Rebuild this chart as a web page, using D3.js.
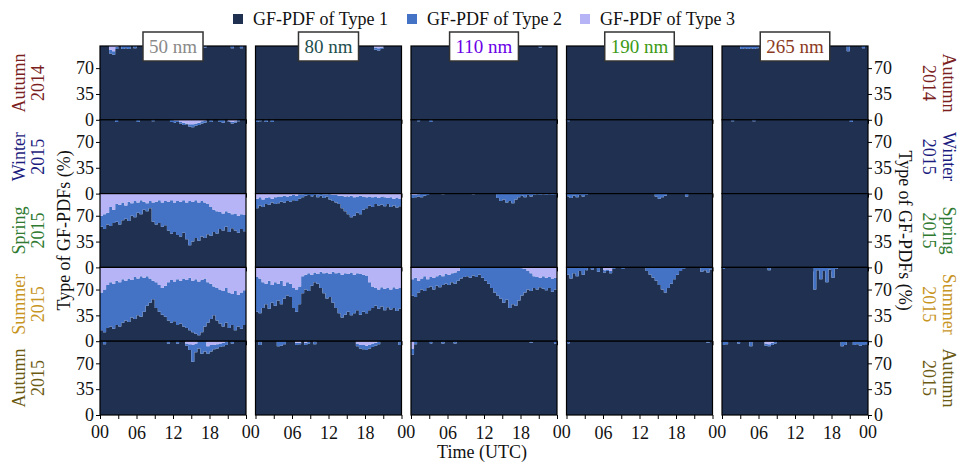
<!DOCTYPE html>
<html>
<head>
<meta charset="utf-8">
<script src="https://cdn.jsdelivr.net/npm/d3@7"></script>
<style>
body { margin: 0; background: #fff; }
svg { display: block; font-family: "Liberation Serif", "DejaVu Serif", serif; }
</style>
</head>
<body>
<div id="chart"></div>
<script>
// categories
const sizes = ["50 nm", "80 nm", "110 nm", "190 nm", "265 nm"];
const seasons = [["Autumn", "2014"], ["Winter", "2015"], ["Spring", "2015"], ["Summer", "2015"], ["Autumn", "2015"]];
const typeNames = ["GF-PDF of Type 1", "GF-PDF of Type 2", "GF-PDF of Type 3"];
const hours = d3.range(0, 24, 0.5); // half-hour bins, UTC
const xTicks = [0, 3, 6, 9, 12, 15, 18, 21, 24];
const xTickLabels = { 6: "06", 12: "12", 18: "18" };
const yTicks = [0, 35, 70];

// share (%) of Type 2 and Type 3 per half-hour bin; one list per size (50, 80, 110, 190, 265 nm).
// Type 1 is the rest of the 100 %.
const autumn2014Type2 = [
  [0,0,0,5,5,3,0,4,3,4,0,3, 0,0,0,0,0,0,0,0,0,0,0,0, 0,0,0,0,0,0,0,0,0,0,2,0, 0,0,0,0,0,0,0,3,0,0,3,0],
  [0,0,0,0,0,0,0,0,0,0,0,0, 0,0,3,2,0,0,0,0,0,0,0,0, 0,0,0,0,0,0,0,0,0,0,0,0, 0,0,0,3,3,2,0,0,0,0,0,0],
  [0,0,0,0,0,0,0,0,0,0,0,0, 0,0,0,0,0,0,0,0,0,0,0,0, 0,0,0,0,0,0,0,0,0,0,0,0, 0,0,0,0,0,0,2,0,0,0,0,0],
  [0,0,0,0,0,0,0,0,0,0,0,0, 0,0,0,0,0,0,0,0,0,0,0,0, 0,0,0,0,0,0,0,0,0,0,0,0, 0,0,0,0,0,0,0,0,0,0,0,0],
  [0,0,0,0,0,0,4,3,4,3,4,3, 0,7,0,0,0,0,0,0,0,0,0,0, 0,0,0,0,0,0,0,0,0,0,0,0, 0,0,0,0,0,7,0,0,0,0,3,0]
];
const autumn2014Type3 = [
  [0,0,0,5,7,1,0,0,0,0,0,0, 0,0,0,0,0,0,0,0,0,0,0,0, 0,0,0,0,0,0,0,0,0,0,0,0, 0,0,0,0,0,0,0,0,0,0,0,0],
  [0,0,0,0,0,0,0,0,0,0,0,0, 0,0,3,3,0,0,0,0,0,0,0,0, 0,0,0,0,0,0,0,0,0,0,0,0, 0,0,0,2,3,2,0,0,0,0,0,0],
  [0,0,0,0,0,0,0,0,0,0,0,0, 0,0,0,0,0,0,0,0,0,0,0,0, 0,0,0,0,0,0,0,0,0,0,0,0, 0,0,0,0,0,0,0,0,0,0,0,0],
  [0,0,0,0,0,0,0,0,0,0,0,0, 0,0,0,0,0,0,0,0,0,0,0,0, 0,0,0,0,0,0,0,0,0,0,0,0, 0,0,0,0,0,0,0,0,0,0,0,0],
  [0,0,0,0,0,0,0,0,0,0,0,0, 0,0,0,0,0,0,0,0,0,0,0,0, 0,0,0,0,0,0,0,0,0,0,0,0, 0,0,0,0,0,0,0,0,0,0,0,0]
];

const winter2015Type2 = [
  [0,0,0,0,0,3,0,0,0,0,0,0, 3,0,0,0,0,2,0,0,0,0,0,3, 3,2,2,3,1,3,4,3,3,3,3,0, 3,0,0,3,4,0,1,2,2,2,0,0],
  [3,2,0,3,0,3,0,0,0,0,0,0, 0,0,0,0,0,0,0,0,0,0,0,0, 0,0,0,0,0,0,0,0,0,0,0,0, 0,0,0,0,0,0,0,0,0,0,0,0],
  [0,0,2,0,0,0,3,0,0,0,0,0, 0,0,0,0,0,0,0,0,0,0,0,0, 0,0,0,0,0,0,0,0,0,0,0,0, 0,0,0,0,0,0,0,0,0,0,0,0],
  [2,0,0,0,0,0,0,0,0,0,0,0, 0,0,0,0,0,0,0,0,0,0,0,0, 0,0,0,0,0,0,0,0,0,0,0,0, 0,0,0,0,0,0,0,0,0,0,0,0],
  [0,0,0,2,0,0,0,0,0,0,2,0, 0,0,0,0,0,0,0,0,0,0,0,0, 0,0,0,0,0,0,0,0,0,0,0,0, 0,0,0,0,0,0,3,0,0,0,0,0]
];
const winter2015Type3 = [
  [0,0,0,0,0,0,0,0,0,0,0,0, 0,0,0,0,0,0,0,0,0,0,0,0, 1,1,3,4,5,6,6,5,4,2,1,0, 0,0,0,0,0,0,2,3,2,0,0,0],
  [0,0,0,0,0,0,0,0,0,0,0,0, 0,0,0,0,0,0,0,0,0,0,0,0, 0,0,0,0,0,0,0,0,0,0,0,0, 0,0,0,0,0,0,0,0,0,0,0,0],
  [0,0,0,0,0,0,0,0,0,0,0,0, 0,0,0,0,0,0,0,0,0,0,0,0, 0,0,0,0,0,0,0,0,0,0,0,0, 0,0,0,0,0,0,0,0,0,0,0,0],
  [0,0,0,0,0,0,0,0,0,0,0,0, 0,0,0,0,0,0,0,0,0,0,0,0, 0,0,0,0,0,0,0,0,0,0,0,0, 0,0,0,0,0,0,0,0,0,0,0,0],
  [0,0,0,0,0,0,0,0,0,0,0,0, 0,0,0,0,0,0,0,0,0,0,0,0, 0,0,0,0,0,0,0,0,0,0,0,0, 0,0,0,0,0,0,0,0,0,0,0,0]
];

const spring2015Type2 = [
  [15,20,16,26,18,24,27,24,18,26,17,22, 14,19,11,11,10,26,31,31,33,33,39,45, 40,46,47,44,50,60,54,51,52,48,48,41, 39,30,30,23,23,21,26,19,23,23,20,22],
  [13,11,10,8,10,5,9,9,7,9,6,8, 7,7,6,4,3,2,4,2,4,3,5,3, 7,8,10,11,17,20,24,29,25,22,25,18, 15,12,13,10,10,11,12,8,13,9,13,10],
  [4,3,3,5,3,2,0,0,0,0,1,0, 0,0,0,0,0,0,0,0,1,0,0,0, 0,0,0,0,6,10,8,12,10,13,8,5, 3,5,2,4,2,1,2,1,2,1,2,1],
  [4,6,3,5,2,4,2,0,0,0,0,0, 0,0,0,0,0,0,0,0,0,0,0,0, 0,0,0,0,0,4,7,5,3,0,0,0, 0,0,0,4,0,0,0,0,0,0,0,0],
  [0,0,0,0,0,0,0,0,0,0,0,0, 0,0,0,0,0,0,0,0,0,0,0,0, 0,0,0,0,0,0,0,0,0,0,0,0, 0,0,0,0,0,0,0,0,0,0,0,0]
];
const spring2015Type3 = [
  [30,28,26,18,22,14,15,12,16,11,13,10, 12,9,11,13,10,12,11,9,12,10,11,9, 12,10,11,9,12,10,11,9,12,10,12,14, 18,22,24,25,27,24,26,28,27,30,28,29],
  [7,5,8,6,5,7,5,4,4,3,4,3, 2,3,1,1,0,0,0,0,1,0,1,1, 1,2,2,3,3,4,4,3,5,4,3,4, 5,4,5,4,6,4,5,6,5,7,6,7],
  [2,2,1,0,0,0,0,0,0,0,0,0, 0,0,0,0,0,0,0,0,0,0,0,0, 0,0,0,0,0,0,0,0,0,0,0,0, 0,0,0,0,0,0,0,0,0,0,0,0],
  [0,0,0,0,0,0,0,0,0,0,0,0, 0,0,0,0,0,0,0,0,0,0,0,0, 0,0,0,0,0,0,0,0,0,0,0,0, 0,0,0,0,0,0,0,0,0,0,0,0],
  [0,0,0,0,0,0,0,0,0,0,0,0, 0,0,0,0,0,0,0,0,0,0,0,0, 0,0,0,0,0,0,0,0,0,0,0,0, 0,0,0,0,0,0,0,0,0,0,0,0]
];

const summer2015Type2 = [
  [51,58,58,60,61,60,60,59,54,59,51,57, 50,55,46,40,33,25,35,36,36,42,52,58, 54,62,58,65,65,71,70,74,73,71,65,55, 48,39,44,46,48,47,48,42,53,43,49,47],
  [47,47,35,28,38,24,32,23,32,17,18,18, 27,30,24,23,20,24,15,13,13,22,27,35, 31,42,47,55,58,56,51,58,52,50,55,50, 51,38,29,24,26,26,29,26,27,28,30,28],
  [22,26,16,15,20,12,13,16,13,17,12,13, 14,12,15,13,15,13,12,14,11,13,10,14, 18,22,28,34,38,42,48,44,55,50,52,45, 37,32,25,24,16,17,13,17,17,15,18,16],
  [10,15,8,12,5,10,4,0,3,0,6,0, 3,2,3,2,0,0,2,0,0,0,0,0, 0,0,5,10,14,18,24,30,34,28,22,16, 10,5,2,0,0,0,0,0,6,4,7,3],
  [2,0,0,0,0,0,0,0,0,0,0,0, 0,0,0,4,0,0,0,0,0,0,0,0, 0,0,0,0,0,0,30,4,16,5,20,3, 14,2,0,0,0,0,0,0,0,0,0,0]
];
const summer2015Type3 = [
  [34,30,24,20,22,18,20,16,18,15,17,13, 15,12,14,12,15,18,20,24,28,25,20,17, 19,16,18,15,17,14,18,16,19,17,15,20, 22,26,28,30,32,28,34,36,32,37,34,31],
  [13,15,20,22,18,24,20,22,18,25,20,22, 28,30,26,12,10,8,10,7,9,6,8,7, 9,6,8,7,10,8,9,7,10,8,9,10, 11,20,26,28,30,27,29,28,30,27,29,28],
  [16,14,18,15,12,16,13,14,12,10,12,9, 10,8,7,5,0,0,0,0,0,0,0,0, 0,0,0,0,0,0,0,0,0,0,0,0, 1,2,5,8,12,13,14,12,14,13,15,14],
  [0,0,0,0,0,0,0,0,0,0,0,0, 4,3,5,0,0,0,0,0,0,0,0,0, 0,0,0,0,0,0,0,0,0,0,0,0, 0,0,0,0,0,0,0,0,0,0,0,0],
  [0,0,0,0,0,0,0,0,0,0,0,0, 0,0,0,0,0,0,0,0,0,0,0,0, 0,0,0,0,0,0,0,0,0,0,0,0, 0,0,0,0,0,0,0,0,0,0,0,0]
];

const autumn2015Type2 = [
  [0,4,0,0,0,0,0,0,0,0,0,0, 0,0,0,0,0,0,0,0,0,0,3,0, 0,3,0,0,3,8,23,12,10,17,14,10, 9,6,6,5,5,4,0,3,0,0,0,0],
  [0,5,0,0,0,0,0,7,6,4,0,0, 0,3,2,0,3,3,0,3,0,0,0,0, 0,0,0,0,0,0,0,0,0,4,5,6, 6,5,5,4,4,0,0,0,0,0,0,5],
  [8,4,0,0,0,0,3,0,0,0,3,0, 0,0,3,0,0,0,0,0,0,0,0,0, 0,0,0,0,0,0,0,0,0,0,0,0, 0,0,0,2,0,0,0,0,0,0,0,3],
  [3,0,0,0,0,0,0,0,0,0,0,0, 0,0,0,0,0,0,0,0,0,0,0,0, 0,0,0,0,0,0,0,0,0,0,0,0, 0,0,0,0,0,0,0,0,0,0,2,0],
  [5,4,0,0,0,3,0,0,0,7,0,0, 0,0,3,3,3,3,0,0,0,0,0,0, 0,0,0,0,0,0,0,0,0,0,0,0, 0,0,0,7,5,0,0,5,4,6,5,4]
];
const autumn2015Type3 = [
  [0,0,0,0,0,0,0,0,0,0,0,0, 0,0,0,0,0,0,0,0,0,0,0,0, 0,0,0,0,3,4,5,3,0,0,0,7, 5,5,4,3,2,1,0,0,0,0,0,0],
  [0,0,0,0,0,0,0,0,0,0,0,0, 0,2,2,0,2,0,0,1,0,0,0,0, 0,0,0,0,0,0,0,0,0,3,5,5, 6,5,3,2,0,0,0,0,0,0,0,0],
  [10,0,0,0,0,0,0,0,0,0,0,0, 0,0,0,0,0,0,0,0,0,0,0,0, 0,0,0,0,0,0,0,0,0,0,0,0, 0,0,0,0,0,0,0,0,0,0,0,0],
  [0,0,0,0,0,0,0,0,0,0,0,0, 0,0,0,0,0,0,0,0,0,0,0,0, 0,0,0,0,0,0,0,0,0,0,0,0, 0,0,0,0,0,0,0,0,0,0,0,0],
  [0,0,0,0,0,0,0,0,0,0,0,0, 0,0,3,4,2,0,0,0,0,0,0,0, 0,0,0,0,0,0,0,0,0,0,0,0, 0,0,0,0,0,0,0,0,0,0,0,0]
];

const type2BySeason = [autumn2014Type2, winter2015Type2, spring2015Type2, summer2015Type2, autumn2015Type2];
const type3BySeason = [autumn2014Type3, winter2015Type3, spring2015Type3, summer2015Type3, autumn2015Type3];

// styles
const typeColors = ["#1f3050", "#4472c4", "#b7b3f7"];
const sizeColors = ["#8a8a8a", "#1d4e4e", "#6a00e6", "#3c9a14", "#8b3a1e"];
const seasonColors = ["#7b1f1f", "#1c1c80", "#2e7a30", "#c8951f", "#6b5a12"];

const width = 959, height = 463;
const plotLeft = 100, plotTop = 46, panelW = 146, colStep = 155.5, rowH = 73.8;
const fontSize = 18;

const svg = d3.select("#chart").append("svg")
	.attr("width", width)
	.attr("height", height);

const xScales = sizes.map((s, c) => d3.scaleLinear()
	.domain([0, 24])
	.range([plotLeft + c * colStep, plotLeft + c * colStep + panelW]));
const yScales = seasons.map((s, r) => d3.scaleLinear()
	.domain([0, 100])
	.range([plotTop + (r + 1) * rowH, plotTop + r * rowH]));

const stack = d3.stack().keys(["type1", "type2", "type3"]);

function styleAxis(g) {
	g.select(".domain").remove();
	g.attr("font-family", null).attr("font-size", fontSize);
	g.selectAll(".tick line").attr("stroke", "#000").attr("stroke-width", 1);
	g.selectAll(".tick text").attr("fill", "#111");
}

seasons.forEach((season, r) => {
	const y = yScales[r];
	sizes.forEach((size, c) => {
		const x = xScales[c];
		const t2 = type2BySeason[r][c];
		const t3 = type3BySeason[r][c];
		const table = hours.map((h, i) => ({
			hour: h,
			type1: 100 - t2[i] - t3[i],
			type2: t2[i],
			type3: t3[i]
		}));
		// close the last step at 24 h
		table.push(Object.assign({}, table[table.length - 1], { hour: 24 }));

		const area = d3.area()
			.curve(d3.curveStepAfter)
			.x(d => x(d.data.hour))
			.y0(d => y(d[0]))
			.y1(d => y(d[1]));

		const g = svg.append("g").attr("class", "panel");
		g.selectAll("path.layer")
			.data(stack(table))
			.join("path")
			.attr("class", "layer")
			.attr("fill", (d, i) => typeColors[i])
			.attr("d", area);

		g.append("rect")
			.attr("x", x(0))
			.attr("y", y(100))
			.attr("width", x(24) - x(0))
			.attr("height", y(0) - y(100))
			.attr("fill", "none")
			.attr("stroke", "#000")
			.attr("stroke-width", 1.2);

		const last = r === seasons.length - 1;
		g.append("g")
			.attr("transform", `translate(0,${y(0)})`)
			.call(d3.axisBottom(x)
				.tickValues(xTicks)
				.tickSize(4)
				.tickPadding(7)
				.tickFormat(d => last && xTickLabels[d] ? xTickLabels[d] : ""))
			.call(styleAxis);

		if (c === 0) {
			g.append("g")
				.attr("transform", `translate(${x(0)},0)`)
				.call(d3.axisLeft(y).tickValues(yTicks).tickSize(4).tickPadding(2))
				.call(styleAxis);
		}
		if (c === sizes.length - 1) {
			g.append("g")
				.attr("transform", `translate(${x(24)},0)`)
				.call(d3.axisRight(y).tickValues(yTicks).tickSize(4).tickPadding(2))
				.call(styleAxis);
		}
	});

	// season labels, both sides
	const cy = (y(0) + y(100)) / 2;
	const lt = svg.append("text")
		.attr("transform", `translate(25,${cy}) rotate(-90)`)
		.attr("text-anchor", "middle")
		.attr("font-size", fontSize)
		.attr("fill", seasonColors[r]);
	lt.append("tspan").attr("x", 0).attr("y", 0).text(season[0]);
	lt.append("tspan").attr("x", 0).attr("y", 19).text(season[1]);

	const rt = svg.append("text")
		.attr("transform", `translate(943,${cy}) rotate(90)`)
		.attr("text-anchor", "middle")
		.attr("font-size", fontSize)
		.attr("fill", seasonColors[r]);
	rt.append("tspan").attr("x", 0).attr("y", 0).text(season[0]);
	rt.append("tspan").attr("x", 0).attr("y", 20).text(season[1]);
});

// "00" labels sit between the panels
const yBottom = yScales[seasons.length - 1](0);
const zeroXs = [xScales[0](0)];
for (let c = 0; c < sizes.length - 1; c++) {
	zeroXs.push((xScales[c](24) + xScales[c + 1](0)) / 2);
}
zeroXs.push(xScales[sizes.length - 1](24));
svg.selectAll("text.zero")
	.data(zeroXs)
	.join("text")
	.attr("class", "zero")
	.attr("x", d => d)
	.attr("y", yBottom + 23)
	.attr("text-anchor", "middle")
	.attr("font-size", fontSize)
	.attr("fill", "#111")
	.text("00");

// size titles in boxes
sizes.forEach((size, c) => {
	const cx = (xScales[c](0) + xScales[c](24)) / 2;
	const g = svg.append("g");
	const rect = g.append("rect");
	const t = g.append("text")
		.attr("x", cx)
		.attr("y", 52.5)
		.attr("text-anchor", "middle")
		.attr("font-size", 19)
		.attr("fill", sizeColors[c])
		.text(size);
	const w = t.node().getComputedTextLength() + 12;
	rect.attr("x", cx - w / 2)
		.attr("y", 32)
		.attr("width", w)
		.attr("height", 29)
		.attr("fill", "#fff")
		.attr("stroke", "#333")
		.attr("stroke-width", 1.5);
});

// axis titles
const midY = (yScales[0](100) + yBottom) / 2;
svg.append("text")
	.attr("transform", `translate(70,${midY}) rotate(-90)`)
	.attr("text-anchor", "middle")
	.attr("font-size", fontSize)
	.attr("fill", "#111")
	.text("Type of GF-PDFs (%)");
svg.append("text")
	.attr("transform", `translate(899,${midY}) rotate(90)`)
	.attr("text-anchor", "middle")
	.attr("font-size", fontSize)
	.attr("fill", "#111")
	.text("Type of GF-PDFs (%)");
svg.append("text")
	.attr("x", 482)
	.attr("y", 458)
	.attr("text-anchor", "middle")
	.attr("font-size", fontSize)
	.attr("fill", "#111")
	.text("Time (UTC)");

// legend
const legendX = [233, 407, 580];
const legend = svg.selectAll("g.legend")
	.data(typeNames)
	.join("g")
	.attr("class", "legend")
	.attr("transform", (d, i) => `translate(${legendX[i]},0)`);
legend.append("rect")
	.attr("x", 0)
	.attr("y", 14)
	.attr("width", 10)
	.attr("height", 10)
	.attr("fill", (d, i) => typeColors[i]);
legend.append("text")
	.attr("x", 20)
	.attr("y", 25)
	.attr("font-size", fontSize)
	.attr("fill", "#111")
	.text(d => d);
</script>
</body>
</html>
